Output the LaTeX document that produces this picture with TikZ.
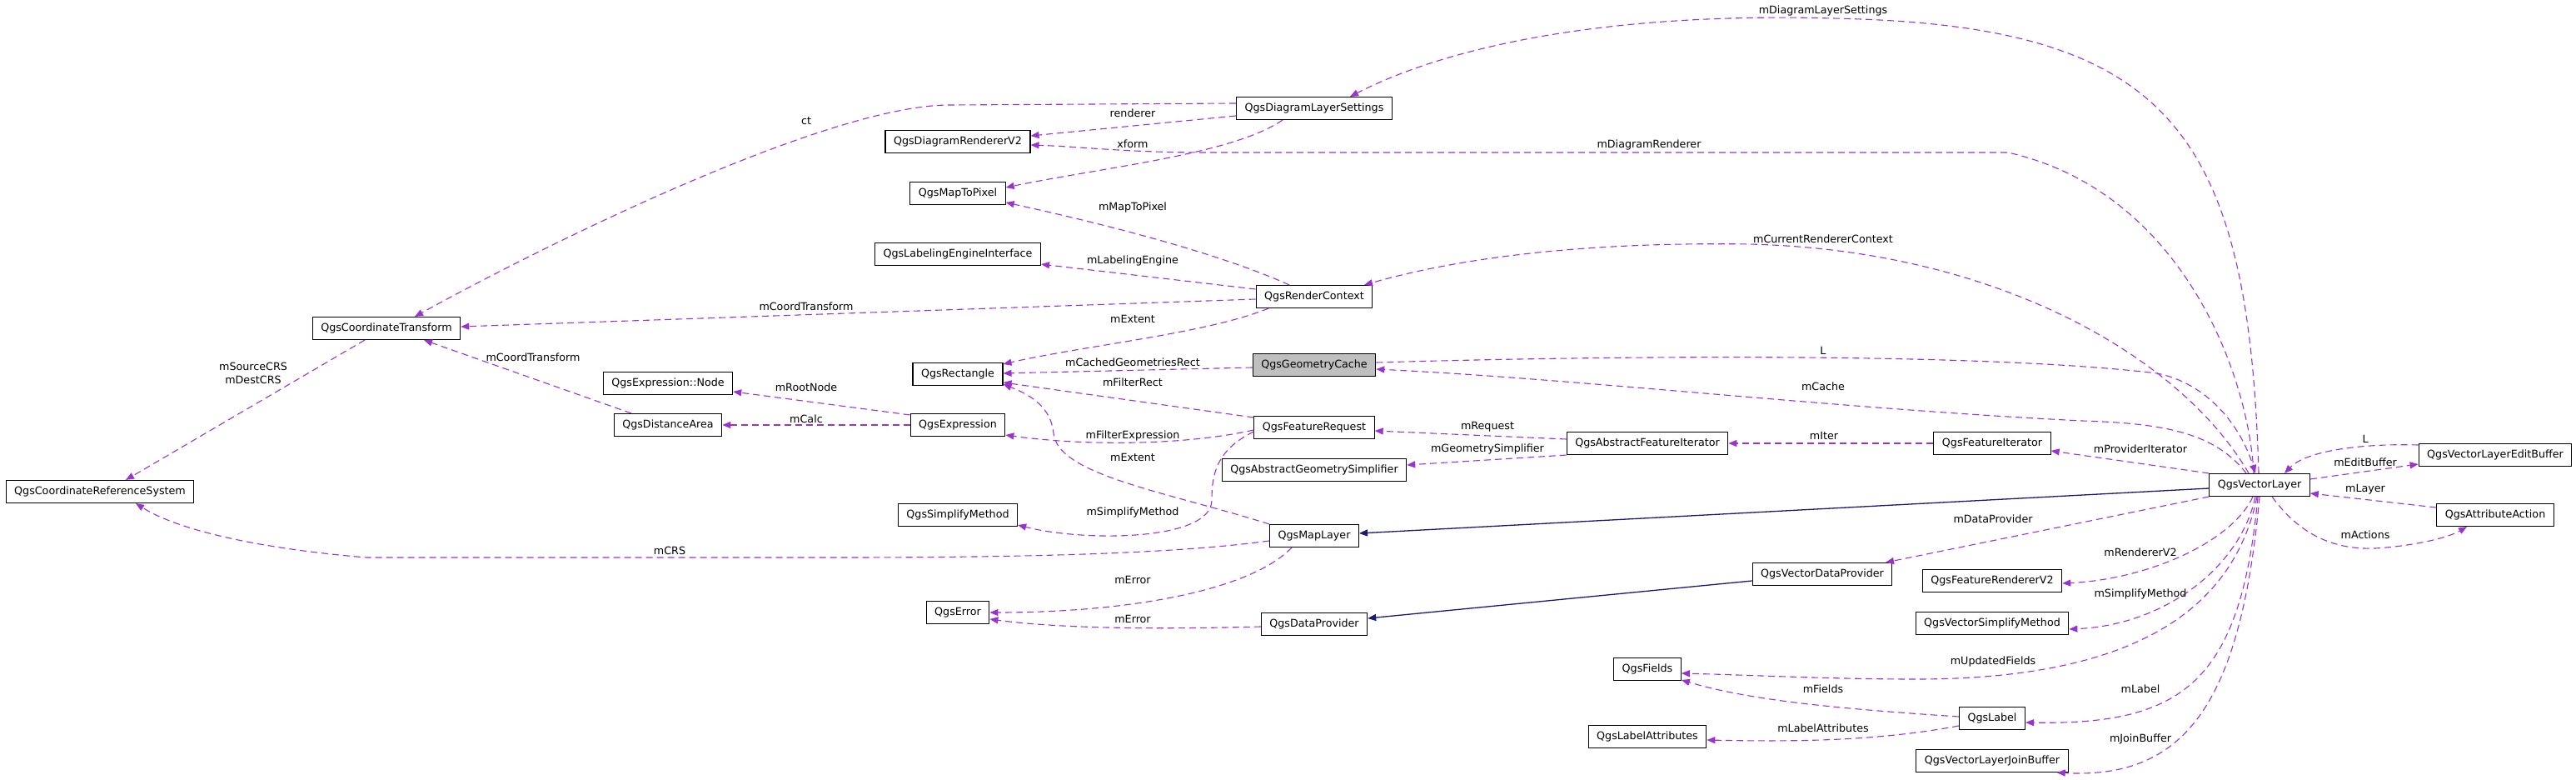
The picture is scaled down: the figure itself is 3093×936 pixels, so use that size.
\documentclass[tikz,border=0pt]{standalone}
\usepackage{fontspec}
\setmainfont{DejaVu Sans}
\usetikzlibrary{arrows.meta}
\definecolor{edgepurple}{HTML}{9A32CD}
\definecolor{inhblue}{HTML}{191970}
\definecolor{focusgray}{HTML}{BFBFBF}

\begin{document}
\begin{tikzpicture}[x=1pt, y=-1pt, >={Triangle[length=10pt, width=8pt]},
  cls/.style={draw=black, line width=1.1pt, fill=white, minimum height=27pt,
    inner xsep=10pt, inner ysep=0pt, font=\fontsize{12.7}{16}\selectfont},
  focus/.style={cls, fill=focusgray},
  uses/.style={->, edgepurple, line width=1.1pt, dash pattern=on 8pt off 5pt},
  inherits/.style={->, inhblue, line width=1.3pt},
  lbl/.style={inner sep=0pt, align=center, font=\fontsize{12.7}{16}\selectfont}]

% Frame
\useasboundingbox (0,0) rectangle (3093,936);

% Left classes
\node[cls] (crs) at (120,590) {QgsCoordinateReferenceSystem};
\node[cls] (ct) at (464,394) {QgsCoordinateTransform};
\node[cls] (exprnode) at (802,460) {QgsExpression::Node};
\node[cls] (dist) at (802,510) {QgsDistanceArea};

% Second column
\node[cls] (drv2) at (1150,170) {QgsDiagramRendererV2};
\node[cls] (m2p) at (1150,232) {QgsMapToPixel};
\node[cls] (lei) at (1150,305) {QgsLabelingEngineInterface};
\node[cls] (rect) at (1150,449) {QgsRectangle};
\node[cls] (expr) at (1150,510) {QgsExpression};
\node[cls] (simp) at (1150,618) {QgsSimplifyMethod};
\node[cls] (err) at (1150,735) {QgsError};

% Third column
\node[cls] (dls) at (1578,130) {QgsDiagramLayerSettings};
\node[cls] (rc) at (1578,356) {QgsRenderContext};
\node[focus] (gc) at (1578,438) {QgsGeometryCache};
\node[cls] (freq) at (1578,513) {QgsFeatureRequest};
\node[cls] (ags) at (1578,564) {QgsAbstractGeometrySimplifier};
\node[cls] (ml) at (1578,643) {QgsMapLayer};
\node[cls] (dp) at (1578,749) {QgsDataProvider};

% Fourth column
\node[cls] (afi) at (1978,532) {QgsAbstractFeatureIterator};
\node[cls] (fields) at (1978,803) {QgsFields};
\node[cls] (labattr) at (1978,884) {QgsLabelAttributes};
\node[cls] (vdp) at (2188,689) {QgsVectorDataProvider};

% Fifth column
\node[cls] (fi) at (2392,532) {QgsFeatureIterator};
\node[cls] (frv2) at (2392,697) {QgsFeatureRendererV2};
\node[cls] (vsm) at (2392,748) {QgsVectorSimplifyMethod};
\node[cls] (qlabel) at (2392,862) {QgsLabel};
\node[cls] (vljb) at (2392,913) {QgsVectorLayerJoinBuffer};

% Vector layer and right classes
\node[cls] (vl) at (2713,582) {QgsVectorLayer};
\node[cls] (veb) at (2996,546) {QgsVectorLayerEditBuffer};
\node[cls] (aa) at (2996,618) {QgsAttributeAction};

% Usage edges, left part
\draw[uses] ([yshift=6pt]dls.west) -- (1140,126) .. controls (1000,126) and (678,281) .. ([xshift=34pt]ct.north);
\draw[uses] ([yshift=-3pt]rc.west) -- ([yshift=2pt]ct.east);
\draw[uses] ([xshift=-44pt]dist.north) -- ([xshift=45pt]ct.south);
\draw[uses] ([xshift=-26pt]ct.south) -- ([xshift=31pt]crs.north);
\draw[uses] ([yshift=-6pt]ml.west) .. controls (1400,666) and (1200,669) .. (1000,669) -- (440,669) .. controls (330,660) and (220,640) .. ([xshift=43pt]crs.south);
\draw[uses] ([yshift=-2pt]expr.north west) -- ([yshift=-10pt]exprnode.east);
\draw[uses] (expr.west) -- (dist.east);

% Usage edges, middle part
\draw[uses] ([yshift=-9pt]dls.west) -- ([yshift=7pt]drv2.east);
\draw[uses] ([xshift=-7pt]vl.north) .. controls (2700,450) and (2620,230) .. (2411,183) -- (1450,183) .. controls (1350,183) and (1300,176) .. ([yshift=-4pt]drv2.east);
\draw[uses] ([xshift=-38pt]dls.south) .. controls (1480,185) and (1330,200) .. ([yshift=7pt]m2p.east);
\draw[uses] ([xshift=-30pt]rc.north) .. controls (1500,320) and (1400,285) .. ([yshift=-11pt]m2p.east);
\draw[uses] ([yshift=9pt]rc.west) -- ([yshift=2pt]lei.south east);
\draw[uses] ([xshift=-55pt]rc.south) .. controls (1450,400) and (1300,415) .. ([yshift=-2pt]rect.north east);
\draw[uses] ([yshift=-3pt]gc.west) -- ([yshift=1pt]rect.east);
\draw[uses] ([yshift=12pt]freq.west) -- ([yshift=-10pt]rect.east);
\draw[uses] (ml.north west) .. controls (1400,590) and (1270,570) .. (1265,520) .. controls (1262,490) and (1240,475) .. ([yshift=2pt]rect.south east);
\draw[uses] ([yshift=-3pt]freq.west) .. controls (1420,535) and (1300,535) .. ([yshift=-12pt]expr.east);
\draw[uses] ([yshift=-5pt]freq.west) .. controls (1460,540) and (1455,570) .. (1455,600) .. controls (1455,650) and (1300,650) .. ([yshift=-12pt]simp.east);
\draw[uses] ([xshift=-27pt]ml.south) .. controls (1500,710) and (1350,735) .. (err.east);
\draw[uses] ([yshift=-3pt]dp.west) .. controls (1400,755) and (1280,755) .. ([yshift=-8pt]err.east);
\draw[uses] ([yshift=5pt]afi.west) -- ([yshift=-4pt]freq.east);
\draw[uses] (afi.south west) -- ([yshift=6pt]ags.east);
\draw[uses] (fi.west) -- (afi.east);

% Usage edges from and to the vector layer
\draw[uses] ([xshift=-1pt]vl.north) .. controls (2700,150) and (2600,30) .. (2200,22) .. controls (1950,15) and (1750,50) .. ([xshift=43pt]dls.north);
\draw[uses] ([xshift=-13pt]vl.north) .. controls (2620,430) and (2400,300) .. (2100,293) .. controls (1900,290) and (1750,310) .. ([xshift=60pt]rc.north);
\draw[uses] ([yshift=3pt]gc.east) .. controls (2000,425) and (2400,425) .. (2590,448) .. controls (2650,460) and (2690,510) .. ([xshift=-5pt]vl.north);
\draw[uses] ([xshift=-16pt]vl.north) .. controls (2660,520) and (2600,508) .. (2500,505) .. controls (2200,490) and (1900,455) .. ([yshift=-5pt]gc.east);
\draw[uses] (vl.north west) -- ([yshift=-9pt]fi.east);
\draw[uses] ([yshift=12pt]veb.west) .. controls (2840,532) and (2770,540) .. ([xshift=30pt]vl.north);
\draw[uses] ([yshift=7pt]vl.east) -- ([yshift=-11pt]veb.west);
\draw[uses] ([yshift=9pt]aa.west) -- ([yshift=-10pt]vl.east);
\draw[uses] ([xshift=15pt]vl.south) .. controls (2760,640) and (2800,660) .. (2852,658) .. controls (2900,655) and (2940,645) .. ([xshift=-34pt]aa.south);
\draw[uses] (vl.south west) -- ([xshift=76pt]vdp.north);
\draw[uses] ([xshift=-8pt]vl.south) .. controls (2680,650) and (2580,695) .. ([yshift=-3pt]frv2.east);
\draw[uses] ([xshift=-5pt]vl.south) .. controls (2690,680) and (2600,750) .. ([yshift=-7pt]vsm.east);
\draw[uses] ([xshift=-3pt]vl.south) .. controls (2680,740) and (2550,815) .. (2300,815) .. controls (2200,815) and (2100,810) .. ([yshift=-5pt]fields.east);
\draw[uses] ([yshift=2pt]qlabel.west) .. controls (2200,850) and (2100,840) .. ([yshift=-13pt]fields.east);
\draw[uses] ([xshift=-2pt]vl.south) .. controls (2690,820) and (2620,870) .. ([yshift=-5pt]qlabel.east);
\draw[uses] ([yshift=-9pt]qlabel.west) .. controls (2250,890) and (2150,890) .. ([yshift=-4pt]labattr.east);
\draw[uses] (vl.south) .. controls (2690,850) and (2620,935) .. ([xshift=-14pt]vljb.south east);

% Inheritance
\draw[inherits] ([yshift=-4pt]vl.west) -- ([yshift=3pt]ml.east);
\draw[inherits] ([yshift=-8pt]vdp.west) -- ([yshift=7pt]dp.east);

% Edge labels
\node[lbl] (lmdls) at (2189,13) {mDiagramLayerSettings};
\node[lbl] (lct) at (968,145) {ct};
\node[lbl] (lrenderer) at (1360,136) {renderer};
\node[lbl] (lxform) at (1360,173) {xform};
\node[lbl] (lmdr) at (1980,174) {mDiagramRenderer};
\node[lbl] (lmm2p) at (1360,249) {mMapToPixel};
\node[lbl] (lmlei) at (1360,313) {mLabelingEngine};
\node[lbl] (lmcrc) at (2189,287) {mCurrentRendererContext};
\node[lbl] (lmct1) at (968,368) {mCoordTransform};
\node[lbl] (lmct2) at (640,429) {mCoordTransform};
\node[lbl] (lmext1) at (1360,383) {mExtent};
\node[lbl] (lmcgr) at (1360,435) {mCachedGeometriesRect};
\node[lbl] (lL1) at (2189,421) {L};
\node[lbl] (lmcache) at (2189,464) {mCache};
\node[lbl] (lmfr) at (1360,459) {mFilterRect};
\node[lbl] (lmroot) at (968,465) {mRootNode};
\node[lbl] (lmcalc) at (968,503) {mCalc};
\node[lbl] (lmfe) at (1360,523) {mFilterExpression};
\node[lbl] (lmext2) at (1360,549) {mExtent};
\node[lbl] (lmreq) at (1786,512) {mRequest};
\node[lbl] (lmgs) at (1786,539) {mGeometrySimplifier};
\node[lbl] (lmiter) at (2190,523) {mIter};
\node[lbl] (lmpi) at (2570,539) {mProviderIterator};
\node[lbl] (lL2) at (2840,527) {L};
\node[lbl] (lmeb) at (2840,555) {mEditBuffer};
\node[lbl] (lmlayer) at (2840,587) {mLayer};
\node[lbl] (lmactions) at (2840,642) {mActions};
\node[lbl] (lmcrs2) at (304,448) {mSourceCRS\\mDestCRS};
\node[lbl] (lmcrs) at (804,661) {mCRS};
\node[lbl] (lmsm1) at (1360,615) {mSimplifyMethod};
\node[lbl] (lmdp) at (2393,623) {mDataProvider};
\node[lbl] (lmrv2) at (2570,663) {mRendererV2};
\node[lbl] (lmsm2) at (2570,713) {mSimplifyMethod};
\node[lbl] (lmerr1) at (1360,696) {mError};
\node[lbl] (lmerr2) at (1360,743) {mError};
\node[lbl] (lmuf) at (2393,794) {mUpdatedFields};
\node[lbl] (lmfields) at (2189,827) {mFields};
\node[lbl] (lmlabel) at (2570,827) {mLabel};
\node[lbl] (lmla) at (2189,874) {mLabelAttributes};
\node[lbl] (lmjb) at (2570,887) {mJoinBuffer};

\end{tikzpicture}
\end{document}
